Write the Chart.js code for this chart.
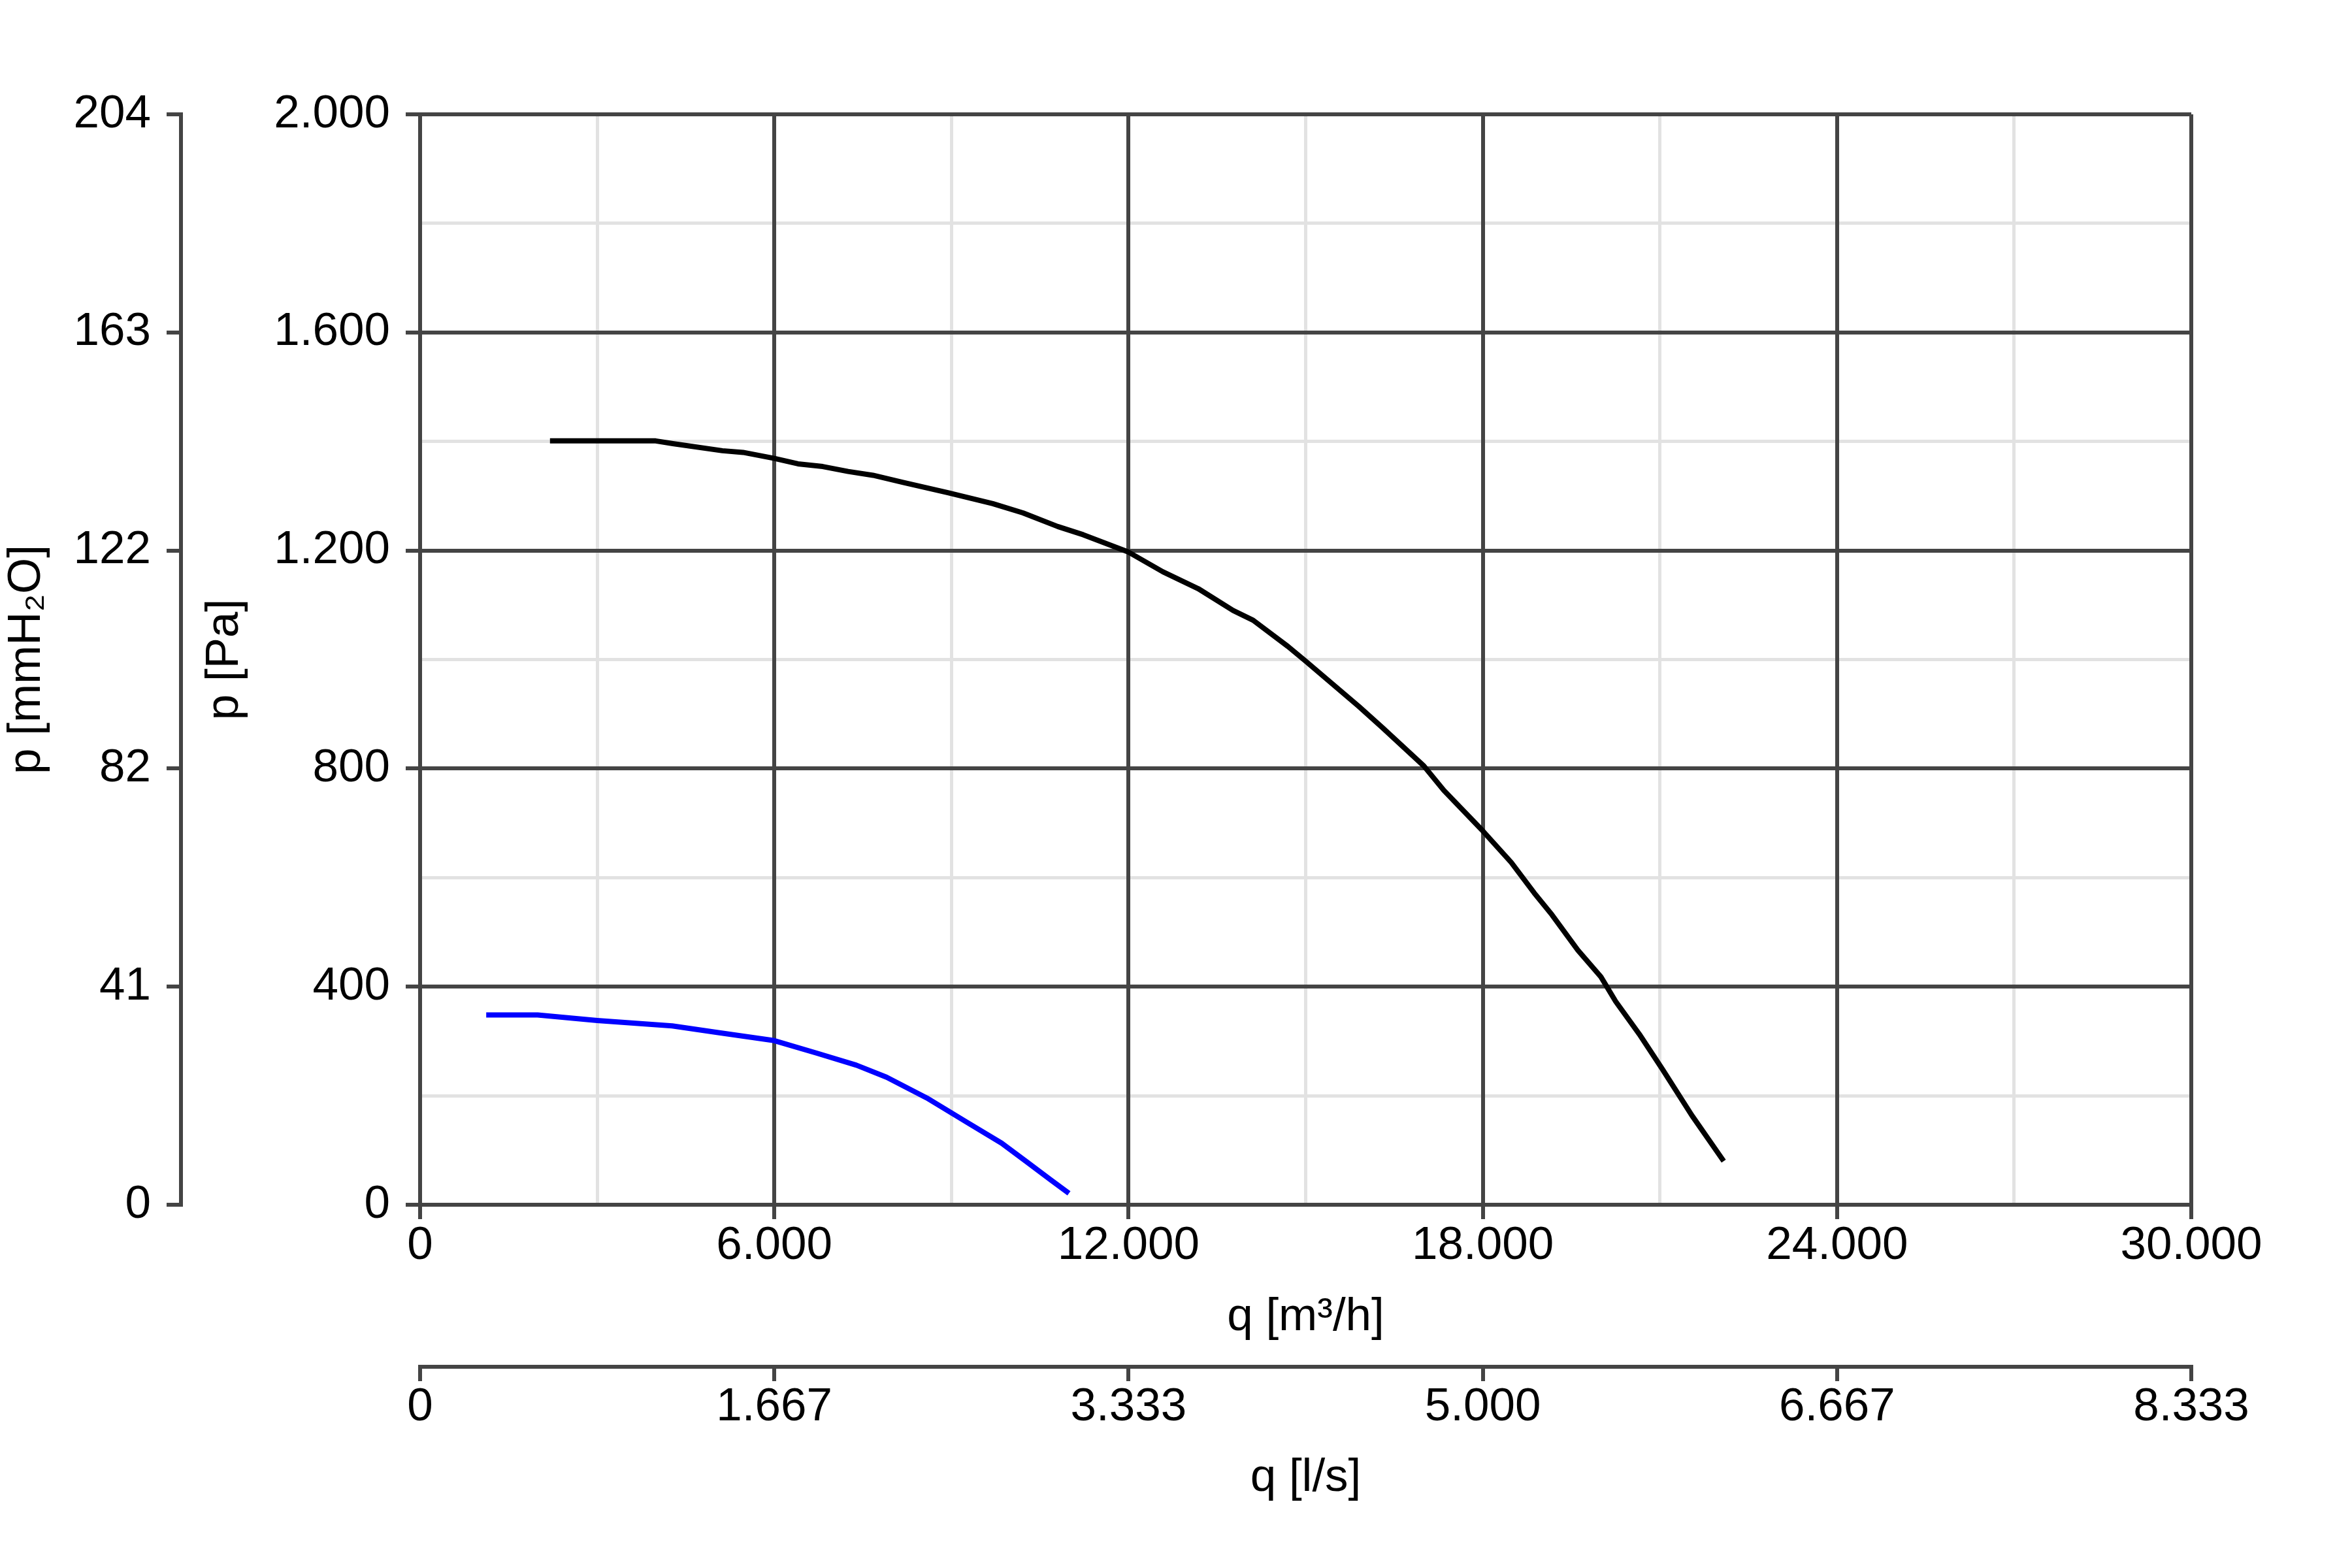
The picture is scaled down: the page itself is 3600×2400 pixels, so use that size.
<!DOCTYPE html>
<html>
<head>
<meta charset="utf-8">
<script src="https://cdn.jsdelivr.net/npm/chart.js@4.4.1/dist/chart.umd.min.js"></script>
<style>html,body{margin:0;padding:0;background:#fff}canvas{display:block}</style>
</head>
<body>
<canvas id="c" width="3600" height="2400"></canvas>
<script>
// Black curve: q [m³/h] vs p [Pa]
const blackQ = [2200,3990,4280,5120,5470,6000,6400,6820,7250,7670,8180,8940,9700,10210,10800,11230,12000,12580,13180,13770,14110,14700,15000,15900,16300,17000,17340,17980,18480,18870,19170,19610,20000,20250,20650,21040,21540,22080];
const blackP = [1401,1401,1396,1383,1380,1369,1359,1354,1345,1338,1325,1306,1286,1269,1244,1229,1197,1161,1130,1090,1072,1024,997,914,875,805,760,688,628,572,532,467,418,373,313,249,164,80];
// Blue curve
const blueQ = [1120,1990,3000,4270,5030,6000,6720,7390,7900,8580,9250,9850,10270,10690,10990];
const blueP = [348,348,338,328,316,301,278,256,234,196,152,113,79,45,21];

// Tick labels
const xTickLabels  = ['0','6.000','12.000','18.000','24.000','30.000'];
const x2TickLabels = ['0','1.667','3.333','5.000','6.667','8.333'];
const yTickLabels  = ['0','400','800','1.200','1.600','2.000'];
const y2TickLabels = ['0','41','82','122','163','204'];

const qMax = 30000, qStep = 6000, qMinorStep = 3000;
const pMax = 2000, pStep = 400, pMinorStep = 200;

const FONT = {family: "'Liberation Sans', Arial, sans-serif", size: 71, lineHeight: 1};
const DARK = '#444444', LIGHT = '#e2e2e2';
const toPoints = (qs, ps) => qs.map((q, i) => ({x: q, y: ps[i]}));

new Chart(document.getElementById('c'), {
  type: 'line',
  data: {
    datasets: [
      {data: toPoints(blackQ, blackP), borderColor: '#000000', borderWidth: 8, pointRadius: 0, tension: 0, fill: false, borderJoinStyle: 'round', xAxisID: 'x', yAxisID: 'y'},
      {data: toPoints(blueQ, blueP), borderColor: '#0000ff', borderWidth: 8, pointRadius: 0, tension: 0, fill: false, borderJoinStyle: 'round', xAxisID: 'x', yAxisID: 'y'}
    ]
  },
  options: {
    responsive: false,
    animation: false,
    devicePixelRatio: 1,
    layout: {padding: {left: 0, right: 246, top: 175, bottom: 92}},
    plugins: {legend: {display: false}, tooltip: {enabled: false}},
    scales: {
      x: {
        type: 'linear', position: 'bottom', weight: 0, min: 0, max: qMax,
        ticks: {stepSize: qStep, autoSkip: false, maxRotation: 0, padding: 6, color: '#000', font: FONT,
                callback: (v) => xTickLabels[Math.round(v / qStep)]},
        grid: {color: DARK, lineWidth: 6, tickLength: 22, tickWidth: 6, tickColor: DARK},
        border: {color: DARK, width: 6},
        title: {display: true, text: 'q [m³/h]', color: '#000', font: FONT, padding: {top: 0, bottom: 40}},
        afterFit: (s) => { s.height = 248; }
      },
      xm: {
        type: 'linear', position: 'bottom', weight: -1, min: 0, max: qMax,
        ticks: {display: false, stepSize: qMinorStep, autoSkip: false},
        grid: {color: LIGHT, lineWidth: 5, drawTicks: false, z: -2},
        border: {display: false},
        afterFit: (s) => { s.height = 0; }
      },
      x2: {
        type: 'linear', position: 'bottom', weight: 2, min: 0, max: qMax,
        ticks: {stepSize: qStep, autoSkip: false, maxRotation: 0, padding: 5, color: '#000', font: FONT,
                callback: (v) => x2TickLabels[Math.round(v / qStep)]},
        grid: {drawOnChartArea: false, color: DARK, lineWidth: 6, tickLength: 22, tickWidth: 6, tickColor: DARK},
        border: {color: DARK, width: 6},
        title: {display: true, text: 'q [l/s]', color: '#000', font: FONT, padding: {top: 0, bottom: 10}},
        afterFit: (s) => { s.height = 216; }
      },
      y: {
        type: 'linear', position: 'left', weight: 0, min: 0, max: pMax,
        ticks: {stepSize: pStep, autoSkip: false, padding: 24, color: '#000', font: FONT,
                callback: (v) => yTickLabels[Math.round(v / pStep)]},
        grid: {color: DARK, lineWidth: 6, tickLength: 22, tickWidth: 6, tickColor: DARK},
        border: {color: DARK, width: 6},
        title: {display: true, text: 'p [Pa]', color: '#000', font: FONT, padding: {top: 32, bottom: 0}},
        afterFit: (s) => { s.width = 366; }
      },
      ym: {
        type: 'linear', position: 'left', weight: -1, min: 0, max: pMax,
        ticks: {display: false, stepSize: pMinorStep, autoSkip: false},
        grid: {color: LIGHT, lineWidth: 5, drawTicks: false, z: -2},
        border: {display: false},
        afterFit: (s) => { s.width = 0; }
      },
      y2: {
        type: 'linear', position: 'left', weight: 2, min: 0, max: pMax,
        ticks: {stepSize: pStep, autoSkip: false, padding: 24, color: '#000', font: FONT,
                callback: (v) => y2TickLabels[Math.round(v / pStep)]},
        grid: {drawOnChartArea: false, color: DARK, lineWidth: 6, tickLength: 22, tickWidth: 6, tickColor: DARK},
        border: {color: DARK, width: 6},
        title: {display: true, text: 'p [mmH₂O]', color: '#000', font: FONT, padding: {top: 6, bottom: 0}},
        afterFit: (s) => { s.width = 277; }
      }
    }
  }
});
</script>
</body>
</html>
